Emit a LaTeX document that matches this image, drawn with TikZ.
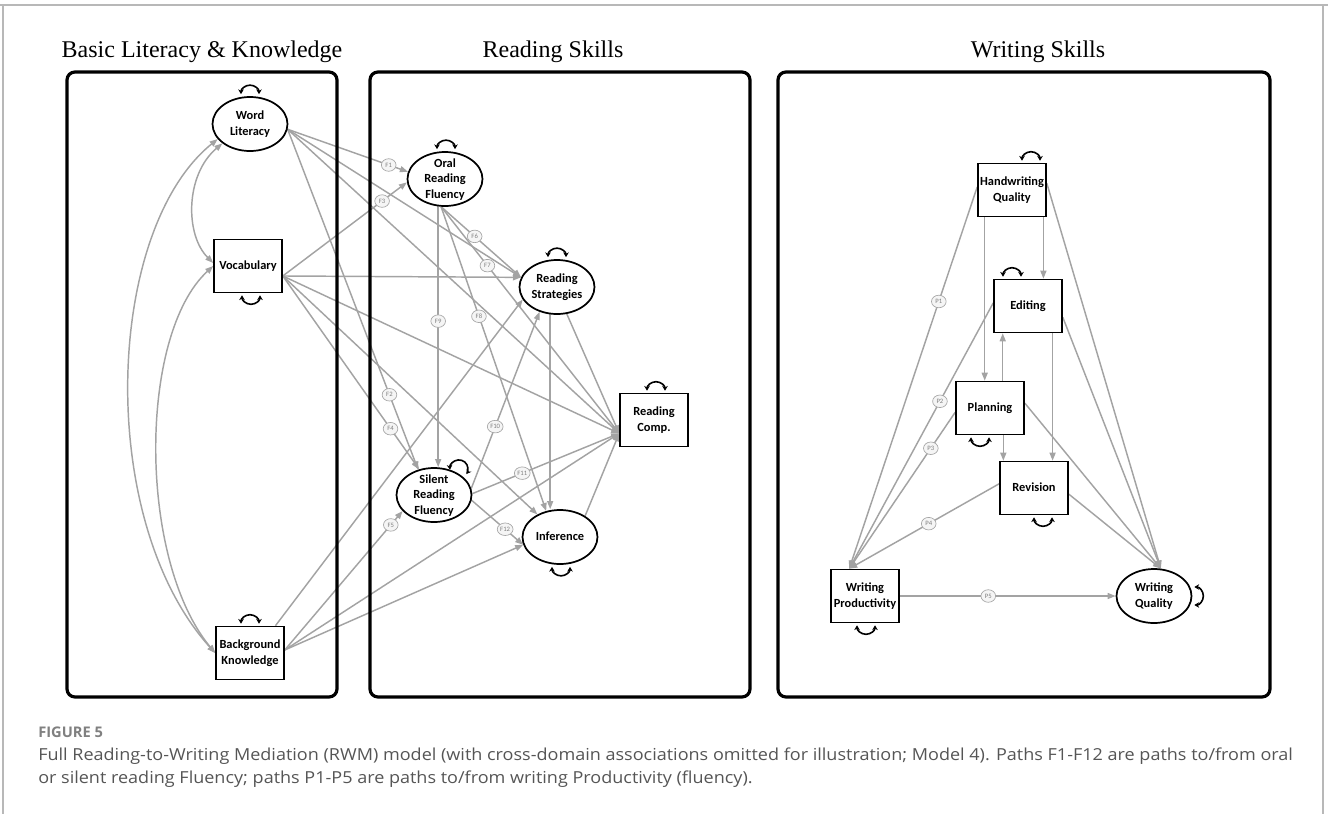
\documentclass[tikz,border=0pt]{standalone}
\usepackage{fontspec}
\setmainfont{Liberation Serif}
\newfontfamily\boxfont{Carlito}
\newfontfamily\capfont[FakeStretch=1.09]{Open Sans}
\newfontfamily\capheadfont{Open Sans}
\usetikzlibrary{arrows.meta,shapes.geometric,calc}

\definecolor{pathgray}{HTML}{A3A3A3}
\definecolor{framegray}{HTML}{B8B8B8}
\definecolor{capgray}{HTML}{555555}
\definecolor{tagfill}{HTML}{F5F5F5}

\pgfdeclarelayer{lines}
\pgfsetlayers{lines,main}

% text centred in a node without enlarging the node
\newcommand\nodetext[1]{\raisebox{-2.7pt}[0pt][0pt]{\begin{tabular}{@{}c@{}}#1\end{tabular}}}

\begin{document}
\begin{tikzpicture}[x=0.75pt,y=-0.75pt,
  latent/.style={ellipse, draw=black, line width=1.3pt, fill=white,
    minimum width=56.25pt, minimum height=40.5pt, inner sep=0pt,
    font=\boxfont\bfseries\fontsize{9.3}{11.7}\selectfont},
  observed/.style={rectangle, draw=black, line width=1.2pt, fill=white,
    minimum width=51pt, minimum height=39.75pt, inner sep=0pt,
    font=\boxfont\bfseries\fontsize{9.3}{11.7}\selectfont},
  sempath/.style={draw=pathgray, line width=1.1pt, -{Triangle[length=6pt,width=4.5pt]}},
  covar/.style={draw=pathgray, line width=1.1pt,
    {Triangle[length=6pt,width=4.5pt]}-{Triangle[length=6pt,width=4.5pt]}},
  tag/.style={ellipse, draw=gray!70, line width=0.5pt, fill=tagfill, inner sep=0.5pt,
    minimum width=11pt, minimum height=9.4pt, text=gray,
    font=\boxfont\fontsize{5}{5.5}\selectfont},
  selfloop/.style={draw=black, line width=1.2pt,
    {Stealth[length=3.6pt,width=4.2pt]}-{Stealth[length=3.6pt,width=4.2pt]}},
  panel/.style={draw=black, line width=2.4pt, rounded corners=6pt},
  heading/.style={font=\fontsize{18}{20}\selectfont, anchor=base},
]
\useasboundingbox (0,0) rectangle (1328,814);

% outer frame of the figure
\draw[framegray, line width=1.5pt] (0,5) -- (1328,5);
\draw[framegray, line width=1.5pt] (3,5) -- (3,814);
\draw[framegray, line width=1.5pt] (1323,5) -- (1323,814);

% headings
\node[heading] (h1) at (202,57) {Basic Literacy \& Knowledge};
\node[heading] (h2) at (553,57) {Reading Skills};
\node[heading] (h3) at (1038,57) {Writing Skills};

% basic literacy and knowledge
\node[latent]   (WL)    at (250,124) {\nodetext{Word\\Literacy}};
\node[observed] (Vocab) at (248,266) {\nodetext{Vocabulary}};
\node[observed] (BK)    at (250,653) {\nodetext{Background\\Knowledge}};

% reading skills
\node[latent]   (ORF) at (445,179) {\nodetext{Oral\\Reading\\Fluency}};
\node[latent]   (RS)  at (557,287) {\nodetext{Reading\\Strategies}};
\node[latent]   (SRF) at (434,495) {\nodetext{Silent\\Reading\\Fluency}};
\node[latent]   (Inf) at (560,537) {\nodetext{Inference}};
\node[observed] (RC)  at (654,420) {\nodetext{Reading\\Comp.}};

% writing skills
\node[observed] (HQ)   at (1012,190) {\nodetext{Handwriting\\Quality}};
\node[observed] (Edit) at (1028,306) {\nodetext{Editing}};
\node[observed] (Plan) at (990,408)  {\nodetext{Planning}};
\node[observed] (Rev)  at (1034,488) {\nodetext{Revision}};
\node[observed] (WP)   at (865,596)  {\nodetext{Writing\\Productivity}};
\node[latent]   (WQ)   at (1154,596) {\nodetext{Writing\\Quality}};

% residual variances
\draw[selfloop] ($(WL.north)+(-9,-2)$)      arc[start angle=180,end angle=360,radius=9];
\draw[selfloop] ($(Vocab.south)+(3-9,2)$)   arc[start angle=180,end angle=0,radius=9];
\draw[selfloop] ($(BK.north)+(-9,-2)$)      arc[start angle=180,end angle=360,radius=9];
\draw[selfloop] ($(ORF.north)+(1-9,-2)$)    arc[start angle=180,end angle=360,radius=9];
\draw[selfloop] ($(RS.north)+(-9,-2)$)      arc[start angle=180,end angle=360,radius=9];
\draw[selfloop] ($(SRF.center)+(16,-25.3)$) arc[start angle=175,end angle=395,radius=9];
\draw[selfloop] ($(Inf.south)+(1-9,2)$)     arc[start angle=180,end angle=0,radius=9];
\draw[selfloop] ($(RC.north)+(2-9,-2)$)     arc[start angle=180,end angle=360,radius=9];
\draw[selfloop] ($(HQ.north)+(19-9,-2)$)    arc[start angle=180,end angle=360,radius=9];
\draw[selfloop] ($(Edit.north)+(-16-9,-2)$) arc[start angle=180,end angle=360,radius=9];
\draw[selfloop] ($(Plan.south)+(-10-9,2)$)  arc[start angle=180,end angle=0,radius=9];
\draw[selfloop] ($(Rev.south)+(9-9,2)$)     arc[start angle=180,end angle=0,radius=9];
\draw[selfloop] ($(WP.south)+(1-9,2)$)      arc[start angle=180,end angle=0,radius=9];
\draw[selfloop] ($(WQ.east)+(2,-9)$)        arc[start angle=270,end angle=450,radius=9];

\begin{pgfonlayer}{lines}
% covariances among the basic skills
\draw[covar] (BK.west) .. controls (95,520) and (105,230) .. (WL.205);
\draw[covar] (BK.west) .. controls (138,560) and (138,335) .. (Vocab.west);
\draw[covar] (WL.215) .. controls (185,175) and (185,235) .. (Vocab.175);

% paths from word literacy
\draw[sempath] (WL.-8) -- node[tag,pos=.84] {F1} (ORF.169);
\draw[sempath] (WL.-8) -- node[tag,pos=.78] {F2} (SRF.122);
\draw[sempath] (WL.-8) -- (RS.165);
\draw[sempath] (WL.-8) -- (RC.201);

% paths from vocabulary
\draw[sempath] (Vocab.-16) -- node[tag,pos=.80] {F3} (ORF.185);
\draw[sempath] (Vocab.-16) -- node[tag,pos=.79] {F4} (SRF.120);
\draw[sempath] (Vocab.-16) -- (RS.165);
\draw[sempath] (Vocab.-16) -- (RC.201);
\draw[sempath] (Vocab.-16) -- (Inf.135);

% paths from background knowledge
\draw[sempath] (BK.5) -- node[tag,pos=.90] {F5} (SRF.207);
\draw[sempath] (BK.47) -- (RS.200);
\draw[sempath] (BK.5) -- (RC.201);
\draw[sempath] (BK.5) -- (Inf.192);

% paths from oral reading fluency
\draw[sempath] (ORF.-98) -- node[tag,pos=.42] {F6} (RS.165);
\draw[sempath] (ORF.-98) -- node[tag,pos=.26] {F7} (RC.201);
\draw[sempath] (ORF.-98) -- node[tag,pos=.36] {F8} (Inf.118);
\draw[sempath] (ORF.-104) -- node[tag,pos=.44] {F9} (ORF.-104 |- SRF.north);

% paths from silent reading fluency
\draw[sempath] (SRF.10) -- node[tag,pos=.35] {F10} (RS.235);
\draw[sempath] (SRF.2) -- node[tag,pos=.34] {F11} (RC.201);
\draw[sempath] (SRF.-8) -- node[tag,pos=.65] {F12} (Inf.192);

% paths among comprehension skills
\draw[sempath] (RS.-104) -- (RS.-104 |- Inf.north);
\draw[sempath] (RS.-70) -- (RC.201);
\draw[sempath] (Inf.40) -- (RC.201);

% writing model
\draw[sempath] (HQ.-135) -- (HQ.-135 |- Plan.north);
\draw[sempath] (HQ.-41) -- (HQ.-41 |- Edit.north);
\draw[sempath] (HQ.175) -- node[tag,pos=.30] {P1} (WP.120);
\draw[sempath] (HQ.11) -- (WQ.76);
\draw[sempath] (Edit.-48) -- (Edit.-48 |- Rev.north);
\draw[sempath] (Edit.175) -- node[tag,pos=.37] {P2} (WP.120);
\draw[sempath] (Edit.-18) -- (WQ.76);
\draw[sempath] (Plan.65) -- (Plan.65 |- Edit.south);
\draw[sempath] (Plan.-64) -- (Plan.-64 |- Rev.north);
\draw[sempath] (Plan.187) -- node[tag,pos=.23] {P3} (WP.120);
\draw[sempath] (Plan.8) -- (WQ.76);
\draw[sempath] (Rev.173) -- node[tag,pos=.47] {P4} (WP.120);
\draw[sempath] (Rev.-10) -- (WQ.76);
\draw[sempath] (WP.east) -- node[tag,pos=.41] {P5} (WQ.west);

% domain panels
\draw[panel] (67,72) rectangle (337,697);
\draw[panel] (370,72) rectangle (750,697);
\draw[panel] (778,72) rectangle (1270,697);
\end{pgfonlayer}

% caption
\node[anchor=base west, inner sep=0pt, text=gray, font=\capheadfont\bfseries\fontsize{11}{13}\selectfont] (fig) at (38,737) {FIGURE 5};
\node[anchor=base west, inner sep=0pt, text=capgray, align=left,
  font=\capfont\fontsize{12.4}{17.25}\selectfont] (cap) at (38,783)
  {Full Reading-to-Writing Mediation (RWM) model (with cross-domain associations omitted for illustration; Model 4). Paths F1-F12 are paths to/from oral\\
   or silent reading Fluency; paths P1-P5 are paths to/from writing Productivity (fluency).};
\end{tikzpicture}
\end{document}
